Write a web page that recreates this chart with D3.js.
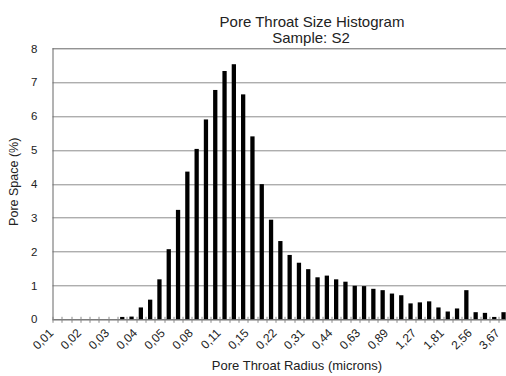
<!DOCTYPE html>
<html>
<head>
<meta charset="utf-8">
<script src="https://cdn.jsdelivr.net/npm/d3@7"></script>
<style>
  body { margin: 0; background: #fff; }
  svg text { font-family: "Liberation Sans", Arial, sans-serif; fill: #222; }
</style>
</head>
<body>
<div id="vis"></div>
<script>
// pore space (%) per radius bin, bins are 1/6 of a doubling wide
var values = [0, 0, 0, 0, 0, 0, 0, 0.07, 0.08, 0.35, 0.58, 1.18, 2.07, 3.23, 4.36,
              5.03, 5.90, 6.77, 7.33, 7.53, 6.64, 5.40, 3.99, 2.94, 2.31, 1.90, 1.67,
              1.48, 1.24, 1.29, 1.18, 1.11, 0.99, 0.98, 0.90, 0.86, 0.76, 0.71, 0.47,
              0.50, 0.53, 0.35, 0.23, 0.32, 0.86, 0.21, 0.19, 0.07, 0.21];
// one label every third bin
var tickLabels = ['0,01', '0,02', '0,03', '0,04', '0,05', '0,08', '0,11', '0,15', '0,22',
                  '0,31', '0,44', '0,63', '0,89', '1,27', '1,81', '2,56', '3,67'];
var yTicks = [0, 1, 2, 3, 4, 5, 6, 7, 8];

var width = 506, height = 376;
var margin = {left: 52.5, top: 48.3, right: -2.2, bottom: 56.7};
var drawWidth = width - margin.left - margin.right,
    drawHeight = height - margin.top - margin.bottom;

var svg = d3.select('#vis').append('svg')
            .attr('width', width)
            .attr('height', height);

var g = svg.append('g')
           .attr('transform', `translate(${margin.left},${margin.top})`);

var xScale = d3.scaleBand()
               .domain(d3.range(values.length))
               .range([0, drawWidth])
               .paddingInner(0.54)
               .paddingOuter(0.27);

var yScale = d3.scaleLinear()
               .domain([0, 8])
               .range([drawHeight, 0]);

// gridlines
g.selectAll('.grid')
 .data(yTicks)
 .enter().append('line')
 .attr('x1', 0).attr('x2', drawWidth)
 .attr('y1', d => Math.round(yScale(d)) + 0.5)
 .attr('y2', d => Math.round(yScale(d)) + 0.5)
 .attr('stroke', d => d == 8 ? '#666' : '#8c8c8c')
 .attr('stroke-width', 1);

// bars
g.selectAll('.bar')
 .data(values)
 .enter().append('rect')
 .attr('x', (d, i) => xScale(i))
 .attr('width', xScale.bandwidth())
 .attr('y', d => yScale(d))
 .attr('height', d => drawHeight - yScale(d))
 .attr('fill', '#000');

// left axis line
g.append('line')
 .attr('x1', 0.5).attr('x2', 0.5)
 .attr('y1', Math.round(yScale(8))).attr('y2', drawHeight)
 .attr('stroke', '#666');

// x axis line with category boundary ticks
var step = xScale.step();
g.append('line')
 .attr('x1', 0).attr('x2', drawWidth)
 .attr('y1', Math.round(drawHeight) + 0.5).attr('y2', Math.round(drawHeight) + 0.5)
 .attr('stroke', '#666');

g.selectAll('.xtick')
 .data(d3.range(values.length + 1))
 .enter().append('line')
 .attr('x1', d => Math.round(d * step) + 0.5)
 .attr('x2', d => Math.round(d * step) + 0.5)
 .attr('y1', drawHeight - 2.5)
 .attr('y2', drawHeight + 3.5)
 .attr('stroke', '#888');

// y tick labels
g.selectAll('.ylab')
 .data(yTicks)
 .enter().append('text')
 .attr('x', -15)
 .attr('y', d => yScale(d) + 4.2)
 .attr('text-anchor', 'end')
 .style('font-size', '11.5px')
 .text(d => d);

// x tick labels, rotated
g.selectAll('.xlab')
 .data(tickLabels)
 .enter().append('text')
 .attr('text-anchor', 'end')
 .attr('transform', (d, i) => {
     var cx = xScale(i * 3) + xScale.bandwidth() / 2;
     return `translate(${cx - 3},${drawHeight + 14.5}) rotate(-45)`;
 })
 .style('font-size', '12px')
 .text(d => d);

// titles
svg.append('text')
   .attr('x', 312).attr('y', 26.7)
   .attr('text-anchor', 'middle')
   .style('font-size', '15px')
   .text('Pore Throat Size Histogram');
svg.append('text')
   .attr('x', 311).attr('y', 43.3)
   .attr('text-anchor', 'middle')
   .style('font-size', '15px')
   .text('Sample: S2');

svg.append('text')
   .attr('x', 297).attr('y', 369.5)
   .attr('text-anchor', 'middle')
   .style('font-size', '13px')
   .text('Pore Throat Radius (microns)');

svg.append('text')
   .attr('transform', `translate(18,${margin.top + drawHeight / 2 - 2}) rotate(-90)`)
   .attr('text-anchor', 'middle')
   .style('font-size', '12.5px')
   .text('Pore Space (%)');
</script>
</body>
</html>
